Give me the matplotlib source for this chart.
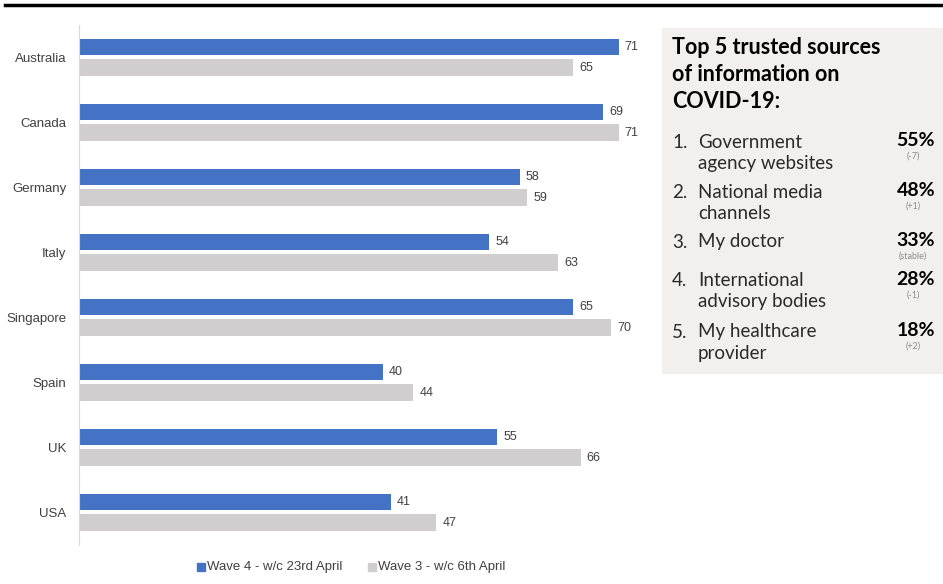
import matplotlib.pyplot as plt
from matplotlib.patches import Rectangle
import numpy as np

countries = ["Australia", "Canada", "Germany", "Italy", "Singapore", "Spain", "UK", "USA"]
wave4 = [71, 69, 58, 54, 65, 40, 55, 41]
wave3 = [65, 71, 59, 63, 70, 44, 66, 47]
wave4_label = "Wave 4 - w/c 23rd April"
wave3_label = "Wave 3 - w/c 6th April"

panel_title = ["Top 5 trusted sources", "of information on", "COVID-19:"]
sources = ["Government\nagency websites", "National media\nchannels", "My doctor",
           "International\nadvisory bodies", "My healthcare\nprovider"]
shares = ["55%", "48%", "33%", "28%", "18%"]
changes = ["(-7)", "(+1)", "(stable)", "(-1)", "(+2)"]

BLUE = "#4472C4"
GREY = "#D0CECE"
TXT = "#404040"

W, H = 943, 584
fig = plt.figure(figsize=(W / 100, H / 100), dpi=100)

def fy(py):
    return 1 - py / H

# top rule
fig.add_artist(plt.Line2D([5 / W, 1], [fy(5), fy(5)], color="black", lw=2.5))

ax = fig.add_axes([79 / W, fy(545), (650 - 79) / W, 520 / H])
y = np.arange(len(countries))
ax.barh(y - 0.16, wave4, height=0.25, color=BLUE)
ax.barh(y + 0.155, wave3, height=0.25, color=GREY)
for i in range(len(countries)):
    ax.text(wave4[i] + 0.8, y[i] - 0.16, str(wave4[i]), va="center", ha="left",
            fontsize=9, color=TXT, family="Liberation Sans")
    ax.text(wave3[i] + 0.8, y[i] + 0.155, str(wave3[i]), va="center", ha="left",
            fontsize=9, color=TXT, family="Liberation Sans")
ax.set_xlim(0, 571 / 7.6)
ax.set_ylim(len(countries) - 0.5, -0.5)
ax.set_yticks(y)
ax.set_yticklabels(countries, fontsize=9.5, color=TXT, family="Liberation Sans")
ax.tick_params(axis="y", length=0, pad=9)
ax.set_xticks([])
for s in ["top", "right", "bottom"]:
    ax.spines[s].set_visible(False)
ax.spines["left"].set_color("#D9D9D9")

# legend
fig.add_artist(Rectangle((197 / W, fy(571)), 8 / W, 8 / H, color=BLUE))
fig.text(207 / W, fy(567), wave4_label, fontsize=9.5, color=TXT, va="center",
         family="Liberation Sans")
fig.add_artist(Rectangle((368 / W, fy(571)), 8 / W, 8 / H, color=GREY))
fig.text(378 / W, fy(567), wave3_label, fontsize=9.5, color=TXT, va="center",
         family="Liberation Sans")

# side panel
fig.add_artist(Rectangle((662 / W, fy(373)), (W - 662) / W, 345 / H,
                         color="#F1F0EE", zorder=0))
for j, line in enumerate(panel_title):
    fig.text(672 / W, fy(54 + 27 * j), line, fontsize=15.5, fontweight="bold",
             color="black", va="baseline", family="Lato")
row_y = [142, 192, 242, 281, 332]
for i in range(len(sources)):
    fig.text(672 / W, fy(row_y[i]), f"{i + 1}.", fontsize=13.5, color="#2a2a2a",
             va="center", family="Lato")
    for j, line in enumerate(sources[i].split("\n")):
        fig.text(698 / W, fy(row_y[i] + 21 * j), line, fontsize=13.5,
                 color="#2a2a2a", va="center", family="Lato")
    fig.text(935 / W, fy(row_y[i] - 1), shares[i], fontsize=14, fontweight="bold",
             color="black", va="center", ha="right", family="Lato")
    fig.text(913 / W, fy(row_y[i] + 14), changes[i], fontsize=6.5,
             color="#8C8C8C", va="center", ha="center", family="Lato")

fig.savefig("out.png", dpi=100)
